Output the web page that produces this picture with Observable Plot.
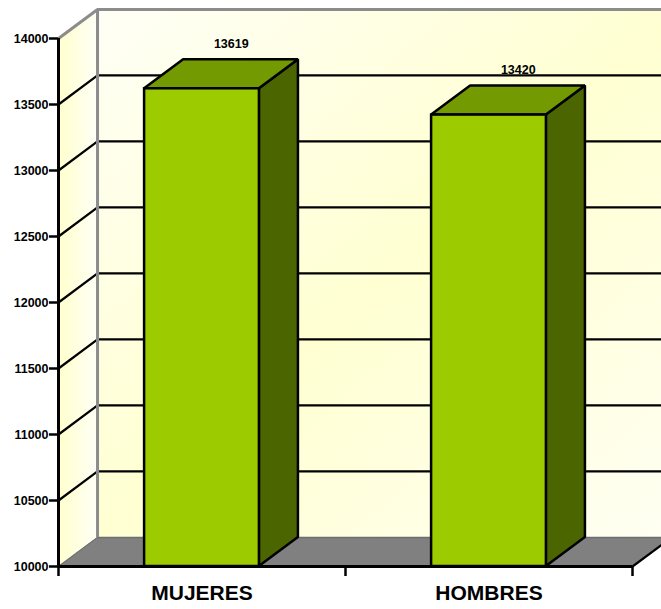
<!DOCTYPE html>
<html>
<head>
<meta charset="utf-8">
<script src="https://cdn.jsdelivr.net/npm/d3@7"></script>
<script src="https://cdn.jsdelivr.net/npm/@observablehq/plot@0.6"></script>
<style>
  html, body { margin: 0; padding: 0; background: #ffffff; }
  svg { display: block; }
</style>
</head>
<body>
<div id="chart"></div>
<script>
// ---- data ----
const categories = ["MUJERES", "HOMBRES"];
const values = [13619, 13420];
const yTicks = [10000, 10500, 11000, 11500, 12000, 12500, 13000, 13500, 14000];

// ---- 3D look (depth expressed in scale units) ----
const yMin = 10000, yMax = 14000;
const nCat = categories.length;
const barHalf = 0.2;      // half bar width in category units
const depthX = 0.136;     // depth offset along x
const depthY = 220;       // depth offset along y
const xEnd = nCat + 0.2;  // back wall runs off the right edge

const bars = categories.map((c, i) => ({
  cat: c, v: values[i], c: i + 0.5, L: i + 0.5 - barHalf, R: i + 0.5 + barHalf
}));
const sidePts = bars.flatMap(b => [
  {cat: b.cat, x: b.R, y1: yMin, y2: b.v},
  {cat: b.cat, x: b.R + depthX, y1: yMin + depthY, y2: b.v + depthY}
]);
const topPts = bars.flatMap(b => [
  {cat: b.cat, y: b.v, x1: b.L, x2: b.R},
  {cat: b.cat, y: b.v + depthY, x1: b.L + depthX, x2: b.R + depthX}
]);
const innerTicks = yTicks.filter(t => t > yMin && t < yMax);

const chart = Plot.plot({
  width: 661,
  height: 609,
  marginLeft: 58,
  marginRight: 29,
  marginTop: 38,
  marginBottom: 43,
  style: {fontFamily: "'Liberation Sans', Arial, sans-serif", background: "#ffffff"},
  x: {type: "linear", domain: [0, nCat], axis: null},
  y: {type: "linear", domain: [yMin, yMax], axis: null},
  marks: [
    // back wall
    Plot.rect([{}], {x1: () => depthX, x2: () => xEnd, y1: () => yMin + depthY, y2: () => yMax + depthY,
      fill: "url(#backGrad)"}),
    // left wall
    Plot.areaY([{x: 0, y1: yMin, y2: yMax}, {x: depthX, y1: yMin + depthY, y2: yMax + depthY}],
      {x: "x", y1: "y1", y2: "y2", fill: "url(#leftGrad)"}),
    // floor
    Plot.areaX([{y: yMin, x1: 0, x2: nCat}, {y: yMin + depthY, x1: depthX, x2: nCat + depthX}],
      {y: "y", x1: "x1", x2: "x2", fill: "#808080"}),
    // floor back edge & left-floor edge
    Plot.ruleY([yMin + depthY], {x1: depthX, x2: xEnd, stroke: "#6e6e6e", strokeWidth: 1.5}),
    Plot.link([{}], {x1: () => 0, y1: () => yMin, x2: () => depthX, y2: () => yMin + depthY,
      stroke: "#6e6e6e", strokeWidth: 1}),
    // gridlines on back wall
    Plot.ruleY(innerTicks, {y: d => d + depthY, x1: depthX, x2: xEnd, stroke: "#000", strokeWidth: 2.2}),
    // gridlines on left wall
    Plot.link(innerTicks, {x1: () => 0, y1: d => d, x2: () => depthX, y2: d => d + depthY,
      stroke: "#000", strokeWidth: 2.2}),
    // wall borders (gray)
    Plot.ruleX([depthX], {y1: yMin + depthY, y2: yMax + depthY, stroke: "#8c8c8c", strokeWidth: 3}),
    Plot.ruleY([yMax + depthY], {x1: depthX, x2: xEnd, stroke: "#8c8c8c", strokeWidth: 3}),
    Plot.link([{}], {x1: () => 0, y1: () => yMax, x2: () => depthX, y2: () => yMax + depthY,
      stroke: "#8c8c8c", strokeWidth: 3}),
    // floor right diagonal edge
    Plot.link([{}], {x1: () => nCat, y1: () => yMin, x2: () => nCat + depthX, y2: () => yMin + depthY,
      stroke: "#000", strokeWidth: 2.2}),
    // bars: side, top, front
    Plot.areaY(sidePts, {x: "x", y1: "y1", y2: "y2", z: "cat", fill: "#4b6500",
      stroke: "#000", strokeWidth: 2.5, strokeLinejoin: "miter"}),
    Plot.areaX(topPts, {y: "y", x1: "x1", x2: "x2", z: "cat", fill: "#739a00",
      stroke: "#000", strokeWidth: 2.5, strokeLinejoin: "miter"}),
    Plot.rect(bars, {x1: "L", x2: "R", y1: () => yMin, y2: "v", fill: "#9ccc00",
      stroke: "#000", strokeWidth: 2.5}),
    // value labels
    Plot.text(bars, {x: d => d.c + depthX * 0.75, y: d => d.v + depthY, dy: -16,
      text: d => String(d.v), fontWeight: "bold", fontSize: 12.5, fill: "#000"}),
    // front axes
    Plot.ruleY([yMin], {x1: 0, x2: nCat, stroke: "#000", strokeWidth: 3}),
    Plot.ruleX([0], {y1: yMin, y2: yMax, stroke: "#000", strokeWidth: 3}),
    Plot.axisX({ticks: d3.range(0, nCat + 1), tickSize: 10, tickFormat: () => "", label: null,
      stroke: "#000", strokeWidth: 2.5}),
    Plot.axisY({ticks: yTicks, tickSize: 9, tickPadding: 1, tickFormat: d => String(d), label: null,
      fontWeight: "bold", fontSize: 12.5, stroke: "#000", strokeWidth: 2.5, fill: "#000"}),
    // category labels
    Plot.text(bars, {x: "c", y: () => yMin, dy: 27, text: "cat", fontWeight: "bold", fontSize: 21, fill: "#000"})
  ]
});

d3.select(chart).insert("defs", ":first-child").html(`
  <linearGradient id="backGrad" x1="0" y1="0" x2="1" y2="1">
    <stop offset="0" stop-color="#fffff6"/>
    <stop offset="0.5" stop-color="#ffffd2"/>
    <stop offset="1" stop-color="#fffff4"/>
  </linearGradient>
  <linearGradient id="leftGrad" x1="0" y1="0" x2="1" y2="0">
    <stop offset="0" stop-color="#ffffcc"/>
    <stop offset="1" stop-color="#fffff6"/>
  </linearGradient>
`);

document.getElementById("chart").appendChild(chart);
</script>
</body>
</html>
